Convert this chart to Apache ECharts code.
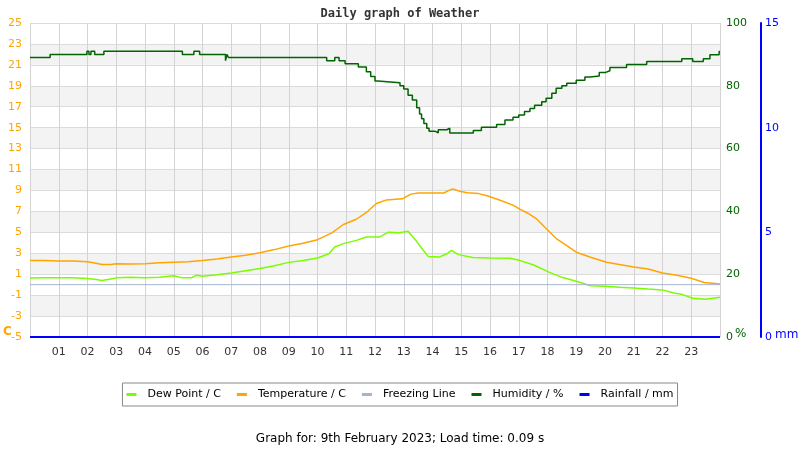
<!DOCTYPE html>
<html>
<head>
<meta charset="utf-8">
<script src="https://cdn.jsdelivr.net/npm/echarts@6/dist/echarts.min.js"></script>
<style>
  html, body { margin: 0; padding: 0; background: #fff; }
  #main { width: 800px; height: 450px; }
</style>
</head>
<body>
<div id="main"></div>
<script>
// temperature readings (hour of day, degrees C)
var tempHours = [0, 0.5, 1, 1.5, 2, 2.3, 2.5, 2.8, 3, 3.5,
  4, 4.5, 5, 5.5, 6, 6.5, 7, 7.5, 8, 8.5,
  9, 9.5, 10, 10.5, 10.9, 11.35, 11.7, 12.05, 12.4, 12.95,
  13.25, 13.5, 14.4, 14.55, 14.7, 14.95, 15.2, 15.6, 15.9, 16.35,
  16.8, 17.05, 17.3, 17.62, 17.97, 18.32, 18.67, 19, 19.5, 20.05,
  20.5, 21, 21.5, 22, 22.5, 23, 23.45, 24];
var temperature = [2.3, 2.3, 2.25, 2.25, 2.2, 2.05, 1.92, 1.92, 2.0, 1.97,
  2.0, 2.1, 2.15, 2.2, 2.3, 2.45, 2.65, 2.8, 3.05, 3.35,
  3.7, 3.95, 4.3, 4.95, 5.75, 6.25, 6.9, 7.75, 8.1, 8.2,
  8.65, 8.76, 8.76, 8.98, 9.15, 8.92, 8.78, 8.7, 8.5, 8.06,
  7.6, 7.2, 6.85, 6.28, 5.32, 4.37, 3.73, 3.1, 2.62, 2.15,
  1.92, 1.69, 1.5, 1.12, 0.9, 0.62, 0.2, 0.07];

// dew point readings
var dewHours = [0, 0.5, 1, 1.5, 2, 2.3, 2.5, 2.8, 3, 3.5,
  4, 4.5, 5, 5.3, 5.6, 5.8, 6, 6.5, 7, 7.5,
  8, 8.5, 9, 9.5, 10, 10.4, 10.6, 10.9, 11.35, 11.7,
  12.15, 12.45, 12.85, 13.15, 13.4, 13.62, 13.85, 14.25, 14.5, 14.66,
  14.9, 15.4, 16, 16.7, 17.05, 17.5, 18.05, 18.5, 19, 19.5,
  20, 20.5, 21, 21.5, 22, 22.4, 22.7, 23.05, 23.5, 24];
var dewPoint = [0.64, 0.65, 0.65, 0.65, 0.6, 0.5, 0.4, 0.55, 0.65, 0.7,
  0.65, 0.7, 0.85, 0.65, 0.65, 0.9, 0.8, 0.95, 1.12, 1.34,
  1.55, 1.8, 2.13, 2.3, 2.55, 2.95, 3.6, 3.92, 4.23, 4.55,
  4.55, 5.0, 4.95, 5.1, 4.3, 3.5, 2.7, 2.65, 2.95, 3.28,
  2.87, 2.6, 2.55, 2.52, 2.3, 1.9, 1.2, 0.7, 0.32, -0.1,
  -0.16, -0.25, -0.33, -0.42, -0.5, -0.8, -0.95, -1.3, -1.4, -1.2];

// humidity changes in steps
var humHours = [0, 0.7, 1.98, 2.05, 2.12, 2.25, 2.57, 5.3, 5.7, 5.9, 6.8, 6.85, 6.9,
  10.32, 10.6, 10.75, 10.96, 11.42, 11.7, 11.85, 12.0, 12.1, 12.87, 13.0, 13.15, 13.3, 13.45,
  13.55, 13.62, 13.7, 13.8, 13.88, 14.1, 14.2, 14.5, 14.6, 15.42, 15.7, 16.23, 16.52, 16.8,
  17.0, 17.2, 17.39, 17.55, 17.8, 17.95, 18.15, 18.3, 18.5, 18.67, 19.0, 19.3, 19.48, 19.8,
  20.0, 20.17, 20.75, 21.45, 22.67, 23.05, 23.42, 23.65, 23.97, 24];
var humidity = [89, 90, 91, 90, 91, 90, 91, 90, 91, 90, 88, 90, 89,
  88, 89, 88, 87, 86, 84.5, 83, 81.5, 81, 80, 79, 77, 75.5, 73,
  71, 69.5, 68, 66.5, 65.5, 65, 66, 66.5, 65, 65.8, 66.8, 67.7, 69.1, 70,
  70.7, 71.8, 72.8, 73.8, 74.9, 76, 77.6, 79.2, 80, 80.8, 81.8, 82.8, 83.1, 84.2,
  84.8, 85.8, 86.8, 87.7, 88.6, 87.7, 88.6, 89.9, 90.9, 91];

var freezeHours = [0, 24];
var freezing = [0, 0];
var rainHours = [0, 24];
var rainfall = [0, 0];

function pairs(xs, ys) {
  return xs.map(function (x, i) { return [x, ys[i]]; });
}

var myChart = echarts.init(document.getElementById('main'));
myChart.setOption({
  animation: false,
  backgroundColor: '#fff',
  title: [{
    text: 'Daily graph of Weather',
    left: 'center', top: 3,
    textStyle: { fontFamily: 'DejaVu Sans Mono', fontSize: 12, fontWeight: 'bold', color: '#333' }
  }, {
    text: 'Graph for: 9th February 2023; Load time: 0.09 s',
    left: 'center', top: 428,
    textStyle: { fontFamily: 'DejaVu Sans', fontSize: 12, fontWeight: 'normal', color: '#000' }
  }],
  legend: {
    top: 383, left: 'center',
    borderColor: '#888', borderWidth: 1, padding: [6, 4, 6, 4],
    itemWidth: 10, itemHeight: 3, itemGap: 16,
    icon: 'rect',
    textStyle: { fontFamily: 'DejaVu Sans', fontSize: 11, color: '#000', padding: [0, 0, 0, 6] },
    data: ['Dew Point / C', 'Temperature / C', 'Freezing Line', 'Humidity / %', 'Rainfall / mm']
  },
  grid: { left: 30, right: 80, top: 23, bottom: 113 },
  xAxis: {
    type: 'value', min: 0, max: 24, interval: 1,
    axisLine: { show: false }, axisTick: { show: false },
    axisLabel: {
      fontFamily: 'DejaVu Sans', fontSize: 11, color: '#333', margin: 10,
      formatter: function (v) { return (v === 0 || v === 24) ? '' : (v < 10 ? '0' + v : '' + v); }
    },
    splitLine: { show: true, lineStyle: { color: '#d3d3d3', width: 1 } }
  },
  yAxis: [{
    type: 'value', min: -5, max: 25, interval: 2, position: 'left',
    axisLine: { show: false }, axisTick: { show: false },
    axisLabel: { fontFamily: 'DejaVu Sans', fontSize: 11, color: '#ffa500', margin: 8 },
    splitLine: { show: true, lineStyle: { color: '#dcdcdc', width: 1 } },
    splitArea: { show: true, areaStyle: { color: ['#ffffff', '#f3f3f3'] } }
  }, {
    type: 'value', min: 0, max: 100, interval: 20, position: 'right',
    axisLine: { show: false }, axisTick: { show: false },
    axisLabel: { fontFamily: 'DejaVu Sans', fontSize: 11, color: '#006400', margin: 6 },
    splitLine: { show: false }
  }, {
    type: 'value', min: 0, max: 15, interval: 5, position: 'right', offset: 41,
    axisLine: { show: true, lineStyle: { color: '#0000ff', width: 2 } }, axisTick: { show: false },
    axisLabel: { fontFamily: 'DejaVu Sans', fontSize: 11, color: '#0000ff', margin: 4 },
    splitLine: { show: false }
  }],
  graphic: [
    { type: 'text', left: 3, top: 326, style: { text: 'C', fill: '#ffa500', font: 'bold 12px DejaVu Sans' } },
    { type: 'text', left: 735, top: 328, style: { text: '%', fill: '#006400', font: '12px DejaVu Sans' } },
    { type: 'text', left: 775, top: 329, style: { text: 'mm', fill: '#0000ff', font: '12px DejaVu Sans' } }
  ],
  series: [{
    name: 'Dew Point / C', type: 'line', yAxisIndex: 0, showSymbol: false,
    color: '#7cfc00', lineStyle: { width: 1.5 }, data: pairs(dewHours, dewPoint)
  }, {
    name: 'Temperature / C', type: 'line', yAxisIndex: 0, showSymbol: false,
    color: '#ffa500', lineStyle: { width: 1.5 }, data: pairs(tempHours, temperature)
  }, {
    name: 'Freezing Line', type: 'line', yAxisIndex: 0, showSymbol: false,
    color: '#a4b4cc', lineStyle: { width: 1 }, data: pairs(freezeHours, freezing)
  }, {
    name: 'Humidity / %', type: 'line', yAxisIndex: 1, showSymbol: false, step: 'end',
    color: '#006400', lineStyle: { width: 1.5 }, data: pairs(humHours, humidity)
  }, {
    name: 'Rainfall / mm', type: 'line', yAxisIndex: 2, showSymbol: false,
    color: '#0000ff', lineStyle: { width: 2 }, data: pairs(rainHours, rainfall)
  }]
});
</script>
</body>
</html>
